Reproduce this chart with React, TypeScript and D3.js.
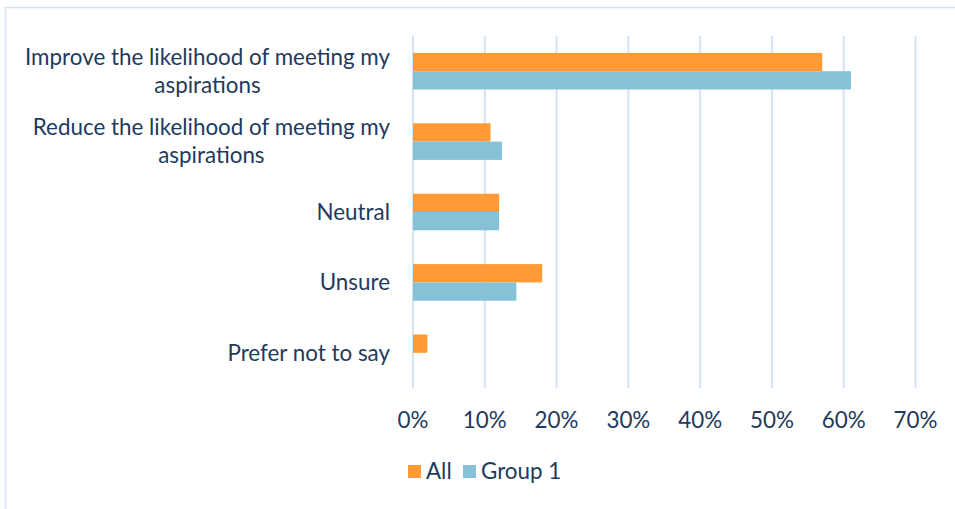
import React, { useRef, useEffect } from 'react';
import * as d3 from 'd3';

const CATEGORIES = [
  ['Improve the likelihood of meeting my', 'aspirations'],
  ['Reduce the likelihood of meeting my', 'aspirations'],
  ['Neutral'],
  ['Unsure'],
  ['Prefer not to say'],
];
const SERIES = ['All', 'Group 1'];
const ALL_VALUES = [0.57, 0.108, 0.12, 0.18, 0.02];
const GROUP1_VALUES = [0.61, 0.124, 0.12, 0.144, 0];
const TICKS = [0, 0.1, 0.2, 0.3, 0.4, 0.5, 0.6, 0.7];

const COLORS = ['#FF9A36', '#85C2D7'];
const TEXT = '#1F3A5C';
const FONT = 'Lato, "Open Sans", sans-serif';
const FONT_SIZE = '22.4px';

const W = 955;
const H = 509;

export default function App() {
  const svgRef = useRef<SVGSVGElement | null>(null);

  useEffect(() => {
    const svg = d3.select(svgRef.current);
    svg.selectAll('*').remove();

    // chart frame
    svg.append('rect')
      .attr('x', 5.5).attr('y', 7.5)
      .attr('width', W + 10).attr('height', H + 10)
      .attr('fill', 'white')
      .attr('stroke', '#D6E2EF').attr('stroke-width', 1.5);

    const x = d3.scaleLinear().domain([0, 0.7]).range([413, 915.5]);
    const y = d3.scaleBand<number>()
      .domain(d3.range(CATEGORIES.length))
      .range([36, 388])
      .paddingInner(0.48).paddingOuter(0.24);

    const sub = d3.scaleBand<number>().domain([0, 1]).range([0, y.bandwidth()]);

    // gridlines
    svg.append('g').selectAll('line')
      .data(TICKS)
      .enter().append('line')
      .attr('x1', d => x(d)).attr('x2', d => x(d))
      .attr('y1', 36).attr('y2', 388)
      .attr('stroke', '#D3E3F3').attr('stroke-width', 2);

    // bars
    const seriesData = [ALL_VALUES, GROUP1_VALUES];
    seriesData.forEach((vals, si) => {
      svg.append('g').selectAll('rect')
        .data(vals)
        .enter().append('rect')
        .attr('x', x(0))
        .attr('y', (_, i) => (y(i) as number) + (sub(si) as number))
        .attr('width', d => x(d) - x(0))
        .attr('height', sub.bandwidth())
        .attr('fill', COLORS[si])
        .attr('display', d => (d > 0 ? null : 'none'));
    });

    // category labels
    const labels = svg.append('g')
      .style('font-family', FONT)
      .style('font-size', FONT_SIZE)
      .attr('fill', TEXT);

    CATEGORIES.forEach((lines, i) => {
      const cy = (y(i) as number) + y.bandwidth() / 2;
      const lh = 28;
      const t = labels.append('text').attr('text-anchor', 'middle');
      lines.forEach((ln, j) => {
        t.append('tspan')
          .attr('y', cy + (j - (lines.length - 1) / 2) * lh)
          .attr('dy', '0.35em')
          .text(ln);
      });
      const widths = t.selectAll<SVGTSpanElement, unknown>('tspan').nodes()
        .map(n => n.getComputedTextLength());
      const maxW = d3.max(widths) || 0;
      t.selectAll('tspan').attr('x', 390 - maxW / 2);
    });

    // x tick labels
    svg.append('g')
      .style('font-family', FONT)
      .style('font-size', FONT_SIZE)
      .attr('fill', TEXT)
      .selectAll('text')
      .data(TICKS)
      .enter().append('text')
      .attr('x', d => x(d))
      .attr('y', 420)
      .attr('dy', '0.35em')
      .attr('text-anchor', 'middle')
      .text(d => d3.format('.0%')(d));

    // legend
    const legend = svg.append('g')
      .style('font-family', FONT)
      .style('font-size', FONT_SIZE)
      .attr('fill', TEXT);
    const legendX = [408, 463];
    SERIES.forEach((s, i) => {
      legend.append('rect')
        .attr('x', legendX[i]).attr('y', 465)
        .attr('width', 13).attr('height', 13)
        .attr('fill', COLORS[i]);
      legend.append('text')
        .attr('x', legendX[i] + 18).attr('y', 471.5)
        .attr('dy', '0.35em')
        .text(s);
    });
  }, []);

  return (
    <svg
      ref={svgRef}
      width={W}
      height={H}
      style={{ position: 'absolute', left: 0, top: 0, background: 'white' }}
    />
  );
}
